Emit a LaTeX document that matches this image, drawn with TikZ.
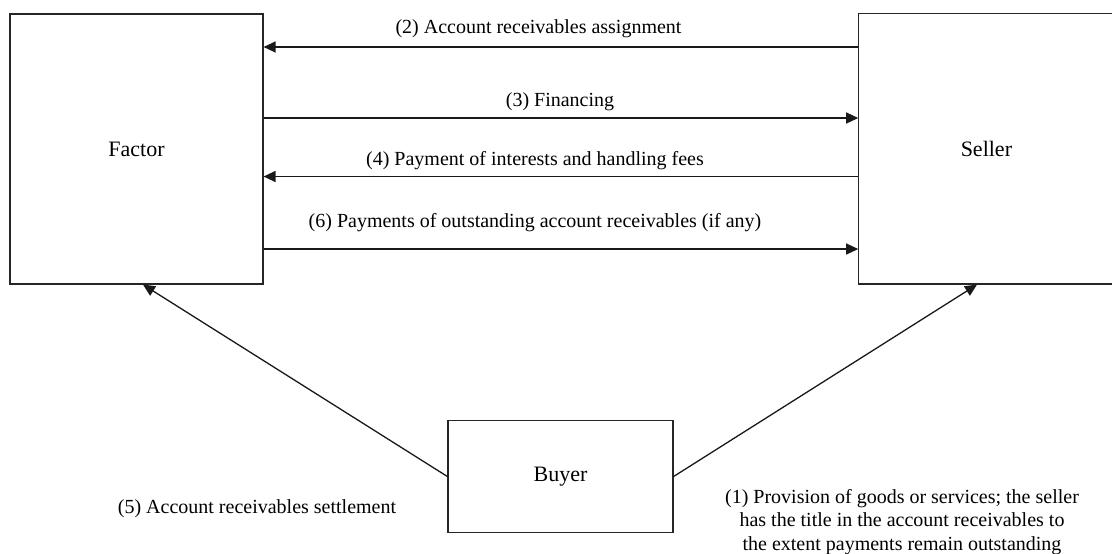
\documentclass[tikz,border=0pt]{standalone}
\usepackage{fontspec}
\setmainfont{Liberation Serif}
\usepackage{tikz}
\usetikzlibrary{arrows.meta,positioning}
\tikzset{%
        party/.style = { draw=black!85, line width=0.6pt, inner sep=0pt, font=\fontsize{11}{13}\selectfont },
         flow/.style = { draw=black!90, line width=0.65pt, -{Triangle[length=6pt,width=5.5pt]} },
          lbl/.style = { anchor=base, inner sep=0pt, font=\fontsize{10}{11.8}\selectfont },
         note/.style = { lbl, anchor=center, align=center }
}

\begin{document}
\begin{tikzpicture}[x=0.5pt,y=-0.5pt,line cap=butt,line join=miter]
\useasboundingbox (0,0) rectangle (1112,553);
\node[party, minimum width=126.5pt, minimum height=135pt] (factor) at (136.5,149) {Factor};
\node[party, minimum width=127.6pt, minimum height=135.3pt] (seller) at (986.4,148.7) {Seller};
\node[party, minimum width=112.5pt, minimum height=55.8pt] (buyer) at (560.5,476.5) {Buyer};
\coordinate (fin) at (factor.south -| 143,0);
\coordinate (sin) at (seller.south -| 977,0);
%\draw[help lines] (0,0) grid[step=50] (1112,553);
\draw[flow] (seller.west |- 0,47) -- (factor.east |- 0,47);
\draw[flow] (factor.east |- 0,118) -- (seller.west |- 0,118);
\draw[flow] (seller.west |- 0,176.5) -- (factor.east |- 0,176.5);
\draw[flow] (factor.east |- 0,249) -- (seller.west |- 0,249);
\draw[flow] (buyer.west) -- (fin);
\draw[flow] (buyer.east) -- (sin);
\node[lbl] (assign) at (538.5,33) {(2) Account receivables assignment};
\node[lbl] (financing) at (560,106.7) {(3) Financing};
\node[lbl] (fees) at (535,165) {(4) Payment of interests and handling fees};
\node[lbl] (outstanding) at (535,227) {(6) Payments of outstanding account receivables (if any)};
\node[lbl] (settle) at (257,513) {(5) Account receivables settlement};
\node[note] (provision) at (902,522) {(1) Provision of goods or services; the seller\\has the title in the account receivables to\\the extent payments remain outstanding};
\end{tikzpicture}
\end{document}
